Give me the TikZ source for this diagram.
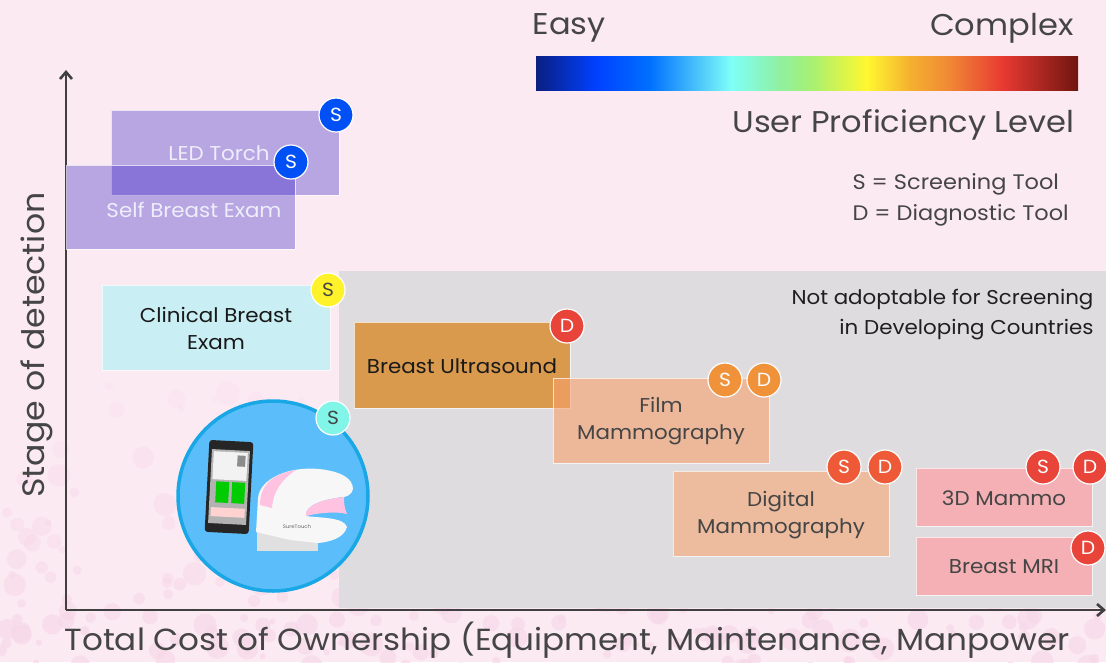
\documentclass[tikz,border=0pt]{standalone}
\usepackage{fontspec}
\setmainfont{Poppins}[FakeStretch=1.07]
\usetikzlibrary{arrows.meta}
\definecolor{bg}{HTML}{FCEAF3}
\definecolor{dots}{HTML}{F7D8E8}
\definecolor{grayzone}{HTML}{DEDCDF}
\definecolor{axisc}{HTML}{404040}
\definecolor{txt}{HTML}{454545}
\definecolor{lav}{RGB}{20,0,188}
\definecolor{cbe}{HTML}{C9EEF4}
\definecolor{usound}{HTML}{DA9A4E}
\definecolor{film}{RGB}{247,160,108}
\definecolor{digi}{HTML}{EDBB9D}
\definecolor{pinkbox}{HTML}{F4B0B4}
\definecolor{bblue}{HTML}{0050F5}
\definecolor{byellow}{HTML}{FFF22A}
\definecolor{bcyan}{HTML}{80F5E8}
\definecolor{bred}{HTML}{E8443A}
\definecolor{borange}{HTML}{F0923A}
\definecolor{bdig}{HTML}{EE5A37}
\definecolor{circfill}{HTML}{5BBDF9}
\definecolor{circline}{HTML}{19A7E6}
\definecolor{j0}{HTML}{0A1F80}
\definecolor{j1}{HTML}{0040FF}
\definecolor{j2}{HTML}{0070FF}
\definecolor{j3}{HTML}{7FFFF8}
\definecolor{j4}{HTML}{90F0A0}
\definecolor{j5}{HTML}{A8F070}
\definecolor{j6}{HTML}{FFF830}
\definecolor{j7}{HTML}{F5B030}
\definecolor{j8}{HTML}{F08A35}
\definecolor{j9}{HTML}{E83A32}
\definecolor{j10}{HTML}{701510}
\pgfdeclarehorizontalshading{jet}{100bp}{color(0bp)=(j0); color(25bp)=(j0); color(30.5bp)=(j1); color(35.5bp)=(j2); color(43bp)=(j3); color(47.5bp)=(j4); color(50.5bp)=(j5); color(55.5bp)=(j6); color(59.5bp)=(j7); color(63bp)=(j8); color(68bp)=(j9); color(75bp)=(j10); color(100bp)=(j10)}
\tikzset{
  boxlabel/.style={font=\fontsize{20}{27}\selectfont, align=center, text=txt},
  badge/.style={circle, minimum size=34pt, inner sep=0pt, draw=white, line width=1.2pt, text=white, font=\fontsize{19}{19}\selectfont},
  bigtext/.style={font=\fontsize{30}{30}\selectfont, text=txt},
  legend/.style={font=\fontsize{21}{30}\selectfont, text=txt},
  boxedge/.style={draw=white, draw opacity=0.7, line width=0.8pt},
}
\begin{document}
\begin{tikzpicture}[x=1pt,y=-1pt]
\useasboundingbox (0,0) rectangle (1106,662);
% background
\fill[bg] (0,0) rectangle (1106,662);
\pgfmathsetseed{11}
\foreach \i in {1,...,320} {
  \pgfmathsetmacro\cx{rnd*1106}
  \pgfmathsetmacro\cy{370+sqrt(rnd)*300}
  \pgfmathsetmacro\rr{3+rnd*9}
  \pgfmathsetmacro\op{0.2+0.5*(\cy-370)/300}
  \fill[dots, opacity=\op] (\cx,\cy) circle (\rr);
}
% grey zone
\fill[grayzone] (339,271) rectangle (1106,608);
% colour bar
\shade[shading=jet] (536,56) rectangle (1078,90);
\node[bigtext, anchor=west] (easy) at (529,28) {Easy};
\node[bigtext, anchor=east] (complex) at (1077,28) {Complex};
\node[bigtext, anchor=east] (upl) at (1078,125) {User Proficiency Level};
\node[legend, anchor=west] (sleg) at (849,184) {S = Screening Tool};
\node[legend, anchor=west] (dleg) at (849,215) {D = Diagnostic Tool};
\node[legend, anchor=east, text=black!88, align=right, font=\fontsize{20}{30}\selectfont] (nota) at (1097,315) {Not adoptable for Screening\\in Developing Countries};
% axes
\coordinate (origin) at (66,610);
\coordinate (ytop) at (66,70);
\coordinate (xend) at (1106,610);
\draw[axisc, line width=2.6pt, -{Straight Barb[length=7pt,width=12pt]}] (origin) -- (ytop);
\draw[axisc, line width=2.6pt, -{Straight Barb[length=7pt,width=12pt]}] (origin) -- (xend);
\node[bigtext, rotate=90, font=\fontsize{31}{31}\selectfont] (ylab) at (37,345) {Stage of detection};
\node[bigtext, anchor=west, font=\fontsize{30.5}{31}\selectfont] (xlab) at (61,640) {Total Cost of Ownership (Equipment, Maintenance, Manpower};
% lavender boxes
\fill[lav, fill opacity=0.29] (111,110) rectangle (339,195);
\draw[boxedge] (111,110) rectangle (339,195);
\fill[lav, fill opacity=0.29] (66,165) rectangle (295,249);
\draw[boxedge] (66,165) rectangle (295,249);
\node[boxlabel, text=white!93!lav] (led) at (219,153) {LED Torch};
\node[boxlabel, text=white!93!lav] (sbe) at (194,210) {Self Breast Exam};
\node[badge, fill=bblue] (b1) at (336,115) {S};
\node[badge, fill=bblue] (b2) at (291,162) {S};
% clinical
\fill[cbe] (102,285) rectangle (330,370);
\draw[boxedge] (102,285) rectangle (330,370);
\node[boxlabel, text=black!90] (cbel) at (216,328) {Clinical Breast\\Exam};
\node[badge, fill=byellow, text=txt] (b3) at (328,290) {S};
% ultrasound
\fill[usound] (354,322) rectangle (570,408);
\draw[boxedge] (354,322) rectangle (570,408);
\node[boxlabel, text=black!90] (usl) at (462,366) {Breast Ultrasound};
\node[badge, fill=bred] (b4) at (567,326) {D};
% film
\fill[film, fill opacity=0.6] (553,378) rectangle (769,463);
\draw[boxedge] (553,378) rectangle (769,463);
\node[boxlabel] (fml) at (661,421) {Film\\Mammography};
\node[badge, fill=borange] (b5) at (725,380) {S};
\node[badge, fill=borange] (b6) at (764,380) {D};
% digital
\fill[digi] (673,471) rectangle (889,556);
\draw[boxedge] (673,471) rectangle (889,556);
\node[boxlabel] (dml) at (781,515) {Digital\\Mammography};
\node[badge, fill=bdig] (b7) at (844,467) {S};
\node[badge, fill=bdig] (b8) at (885,467) {D};
% 3D mammo & MRI
\fill[pinkbox] (916,468) rectangle (1092,526);
\draw[boxedge] (916,468) rectangle (1092,526);
\node[boxlabel] (tdl) at (1004,498) {3D Mammo};
\node[badge, fill=bred] (b9) at (1043,467) {S};
\node[badge, fill=bred] (b10) at (1090,467) {D};
\fill[pinkbox] (916,537) rectangle (1092,595);
\draw[boxedge] (916,537) rectangle (1092,595);
\node[boxlabel] (mril) at (1004,567) {Breast MRI};
\node[badge, fill=bred] (b11) at (1088,548) {D};
% device circle
\fill[circfill] (273,496) circle (95);
\draw[circline, line width=3.5pt] (273,496) circle (95);
% phone
\begin{scope}[rotate around={-3:(229,487)}]
\fill[black!85, rounded corners=3pt] (207,441) rectangle (251,533);
\fill[black!30!white] (210,450) rectangle (248,524);
\fill[white!90!gray] (212,452) rectangle (246,480);
\fill[black!45] (236,455) rectangle (244,466);
\fill[green!80!black] (216,482) rectangle (229,503);
\fill[green!80!black] (232,482) rectangle (245,503);
\fill[pink!70!white] (212,508) rectangle (246,517);
\end{scope}
% scanner
\fill[black!12!white] (257,528) rectangle (318,551);
\fill[white!94!gray] (256,532) -- (258,498) .. controls (260,475) and (300,462) .. (335,472) .. controls (356,478) and (358,494) .. (344,497) .. controls (322,499) and (304,506) .. (306,516) .. controls (320,518) and (344,517) .. (347,527) .. controls (344,538) and (330,542) .. (318,543) -- (290,540) -- cycle;
\fill[pink!80!magenta!60!white] (260,505) .. controls (260,485) and (272,474) .. (296,470) .. controls (281,480) and (273,492) .. (272,508) -- cycle;
\fill[pink!80!magenta!60!white] (344,497) .. controls (322,499) and (304,506) .. (306,516) .. controls (318,513) and (336,511) .. (347,514) .. controls (344,507) and (344,502) .. (344,497) -- cycle;
\node[font=\fontsize{5}{5}\selectfont, text=black!60] (brand) at (297,527) {SureTouch};
\node[badge, fill=bcyan, text=txt] (b12) at (333,418) {S};
\end{tikzpicture}
\end{document}
